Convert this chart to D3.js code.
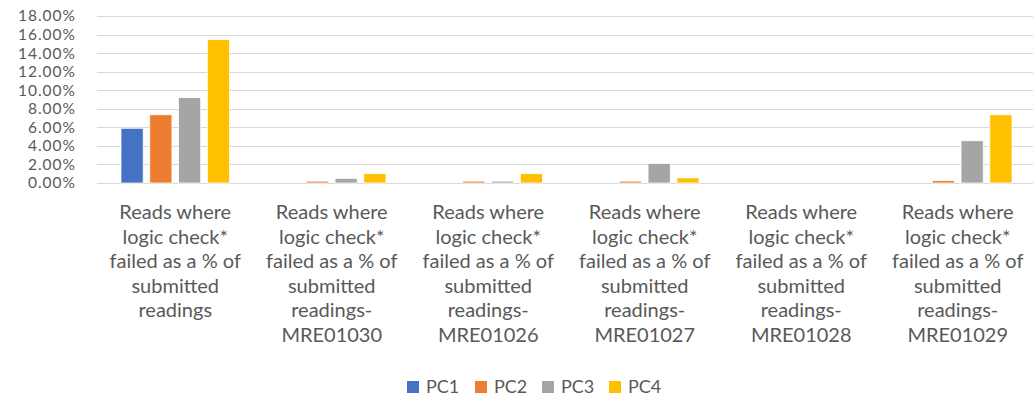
<!DOCTYPE html>
<html>
<head>
<meta charset="utf-8">
<script src="https://cdn.jsdelivr.net/npm/d3@7"></script>
<style>
  body { margin: 0; background: #fff; }
  svg text { font-family: Lato, "Open Sans", sans-serif; fill: #595959; }
</style>
</head>
<body>
<svg id="chart" width="1033" height="401"></svg>
<script>
// categories (each label split into its wrapped lines)
var categories = [
    ["Reads where", "logic check*", "failed as a % of", "submitted", "readings"],
    ["Reads where", "logic check*", "failed as a % of", "submitted", "readings-", "MRE01030"],
    ["Reads where", "logic check*", "failed as a % of", "submitted", "readings-", "MRE01026"],
    ["Reads where", "logic check*", "failed as a % of", "submitted", "readings-", "MRE01027"],
    ["Reads where", "logic check*", "failed as a % of", "submitted", "readings-", "MRE01028"],
    ["Reads where", "logic check*", "failed as a % of", "submitted", "readings-", "MRE01029"]
];
var seriesNames = ["PC1", "PC2", "PC3", "PC4"];
var seriesColors = ["#4472C4", "#ED7D31", "#A5A5A5", "#FFC000"];

// values in percent, one array per series
var pc1 = [5.9, 0, 0, 0, 0, 0];
var pc2 = [7.35, 0.2, 0.2, 0.2, 0, 0.25];
var pc3 = [9.2, 0.5, 0.2, 2.1, 0, 4.55];
var pc4 = [15.45, 1.0, 1.0, 0.55, 0, 7.35];
var yTicks = [0, 2, 4, 6, 8, 10, 12, 14, 16, 18];

var series = [pc1, pc2, pc3, pc4];

var svg = d3.select("#chart");
var plotLeft = 97, plotRight = 1036, plotTop = 16, plotBottom = 183;

var y = d3.scaleLinear().domain([0, 18]).range([plotBottom, plotTop]);
var x0 = d3.scaleBand().domain(d3.range(categories.length)).range([plotLeft, plotRight]);
var inset = 24;
var x1 = d3.scaleBand().domain(d3.range(seriesNames.length))
    .range([inset, x0.bandwidth() - inset]).paddingInner(0.23);

// gridlines
svg.append("g").selectAll("line")
    .data(yTicks)
    .enter().append("line")
    .attr("x1", plotLeft).attr("x2", plotRight)
    .attr("y1", function (d) { return Math.round(y(d)) + 0.5; })
    .attr("y2", function (d) { return Math.round(y(d)) + 0.5; })
    .attr("stroke", "#d9d9d9").attr("stroke-width", 1);

// y tick labels
svg.append("g").selectAll("text")
    .data(yTicks)
    .enter().append("text")
    .attr("x", 76)
    .attr("y", function (d) { return y(d); })
    .attr("dy", "0.35em")
    .attr("text-anchor", "end")
    .style("font-size", "15.5px")
    .style("letter-spacing", "1px")
    .text(function (d) { return d.toFixed(2) + "%"; });

// bars
var groups = svg.append("g").selectAll("g")
    .data(categories)
    .enter().append("g")
    .attr("transform", function (d, i) { return "translate(" + x0(i) + ",0)"; });

groups.selectAll("rect")
    .data(function (d, i) { return series.map(function (s, k) { return { k: k, v: s[i] }; }); })
    .enter().append("rect")
    .filter(function (d) { return d.v > 0; })
    .attr("x", function (d) { return x1(d.k); })
    .attr("width", x1.bandwidth())
    .attr("y", function (d) { return y(d.v); })
    .attr("height", function (d) { return plotBottom - y(d.v); })
    .attr("fill", function (d) { return seriesColors[d.k]; })
    .attr("stroke", "#fff").attr("stroke-width", 0.75);

// category labels
groups.append("text")
    .attr("text-anchor", "middle")
    .style("font-size", "20px")
    .selectAll("tspan")
    .data(function (d) { return d; })
    .enter().append("tspan")
    .attr("x", x0.bandwidth() / 2)
    .attr("y", function (d, i) { return 219 + i * 24.6; })
    .text(function (d) { return d; });

// legend
var legendX = [407, 475, 542, 609];
var legend = svg.append("g").selectAll("g")
    .data(seriesNames)
    .enter().append("g")
    .attr("transform", function (d, i) { return "translate(" + legendX[i] + ",381)"; });
legend.append("rect")
    .attr("width", 12).attr("height", 12)
    .attr("fill", function (d, i) { return seriesColors[i]; });
legend.append("text")
    .attr("x", 19).attr("y", 6).attr("dy", "0.35em")
    .style("font-size", "18px")
    .text(function (d) { return d; });
</script>
</body>
</html>
